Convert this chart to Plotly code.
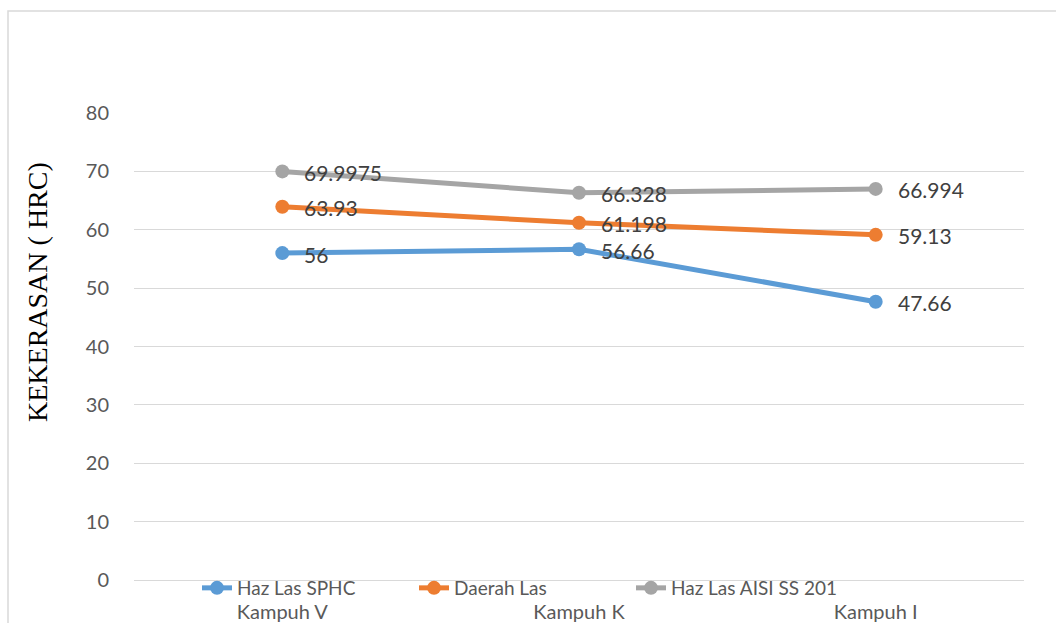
import plotly.graph_objects as go

categories = ["Kampuh V", "Kampuh K", "Kampuh I"]
haz_sphc = [56, 56.66, 47.66]
daerah_las = [63.93, 61.198, 59.13]
haz_aisi = [69.9975, 66.328, 66.994]
y_ticks = [0, 10, 20, 30, 40, 50, 60, 70, 80]

series = [
    ("Haz Las SPHC", haz_sphc, "#5B9BD5"),
    ("Daerah Las", daerah_las, "#ED7D31"),
    ("Haz Las AISI SS 201", haz_aisi, "#A5A5A5"),
]

L, R, T, B = 134, 32, 113, 43
W, H = 1056, 623
pw, ph = W - L - R, H - T - B

fig = go.Figure()
annotations = []
for name, vals, color in series:
    xs = list(range(len(categories)))
    fig.add_trace(go.Scatter(
        x=xs, y=vals, name=name,
        mode="lines+markers",
        line=dict(color=color, width=5),
        marker=dict(color=color, size=14),
        cliponaxis=False,
    ))
    # value labels to the right of each point
    for xi, v in zip(xs, vals):
        annotations.append(dict(
            x=xi, y=v, xref="x", yref="y", text=f"{v:g}",
            xanchor="left", yanchor="middle", xshift=20, yshift=-1,
            showarrow=False, font=dict(family="Lato", size=21, color="#404040"),
        ))

annotations.append(dict(
    text="KEKERASAN ( HRC)", textangle=-90,
    xref="paper", yref="paper",
    x=(37 - L) / pw, y=(H - B - 292) / ph, xanchor="center", yanchor="middle",
    showarrow=False, font=dict(family="Liberation Serif", size=28, color="#000000"),
))

fig.update_layout(
    width=W, height=H,
    margin=dict(l=L, r=R, t=T, b=B, autoexpand=False),
    plot_bgcolor="white", paper_bgcolor="white",
    showlegend=True,
    legend=dict(
        orientation="h", x=(197 - L) / pw, xanchor="left",
        y=(H - B - 588) / ph, yanchor="middle",
        font=dict(family="Lato", size=19, color="#595959"),
        bgcolor="rgba(0,0,0,0)", itemwidth=30, tracegroupgap=0,
        entrywidth=172, entrywidthmode="pixels",
    ),
    xaxis=dict(
        range=[-0.5, 2.5],
        tickmode="array", tickvals=list(range(len(categories))), ticktext=categories,
        showgrid=False, zeroline=False, showline=False, ticks="",
        ticklabelstandoff=18, automargin=False,
        tickfont=dict(family="Lato", size=20, color="#595959"),
    ),
    yaxis=dict(
        range=[0, 80], tickvals=y_ticks,
        showgrid=True, gridcolor="#D9D9D9", gridwidth=1,
        zeroline=True, zerolinecolor="#D9D9D9", zerolinewidth=1,
        showline=False, ticks="", ticklabelstandoff=24, automargin=False,
        tickfont=dict(family="Lato", size=20, color="#595959"),
    ),
    shapes=[dict(
        type="rect", xref="paper", yref="paper",
        x0=(8 - L) / pw, x1=1.2, y0=-0.2, y1=(H - B - 11) / ph,
        line=dict(color="#D9D9D9", width=1.5), fillcolor="rgba(0,0,0,0)", layer="below",
    )],
    annotations=annotations,
)

fig.write_html("out.html")
